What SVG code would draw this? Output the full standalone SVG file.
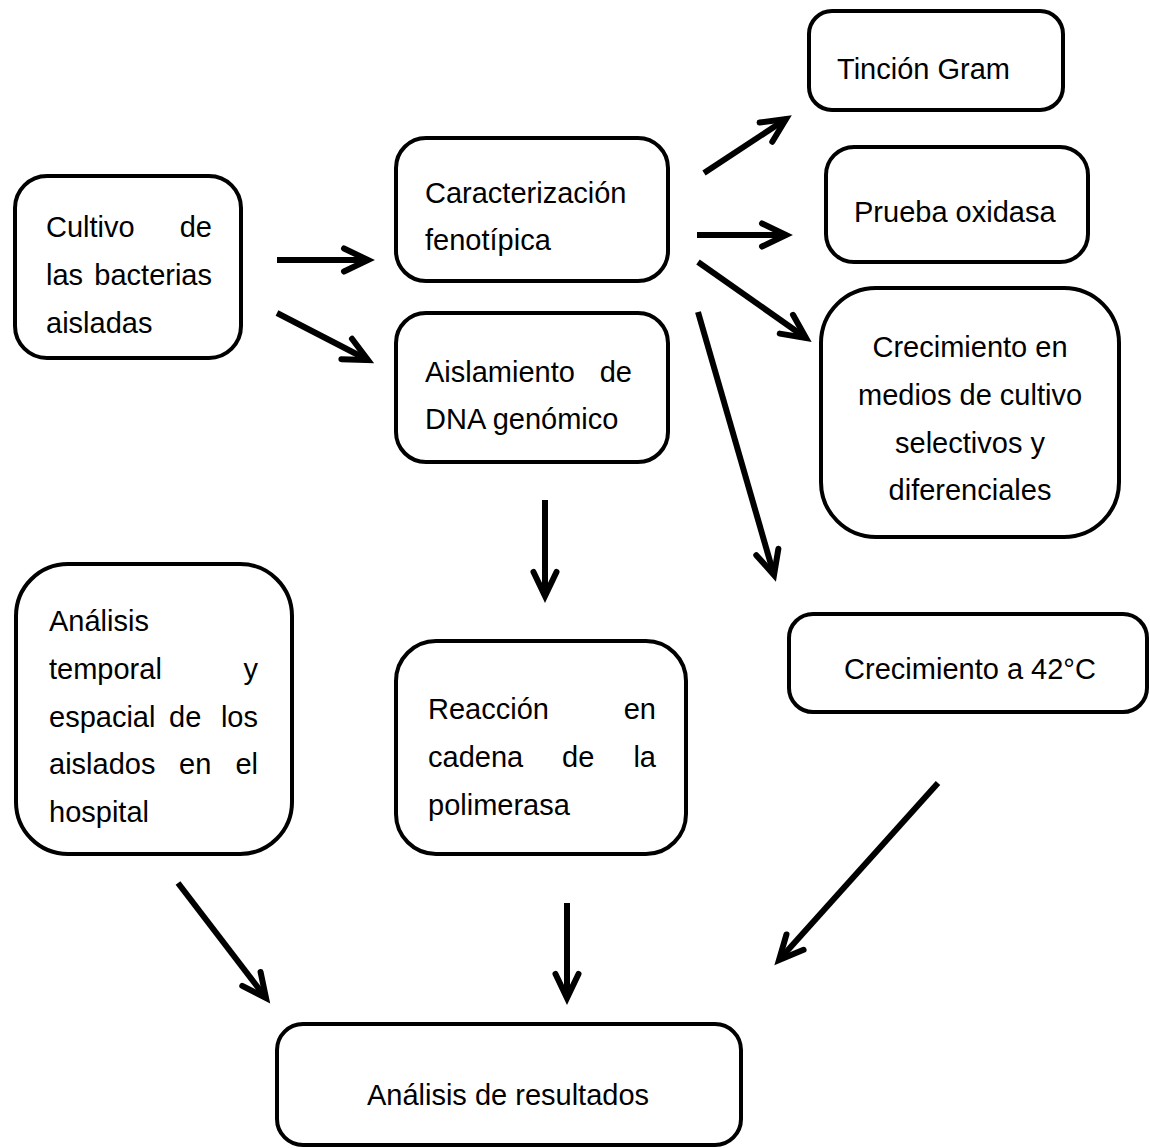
<svg xmlns="http://www.w3.org/2000/svg" width="1150" height="1148" viewBox="0 0 1150 1148">
<style>
.box{fill:#fff;stroke:#000;stroke-width:4}
.t{font-family:"Liberation Sans",Arial,sans-serif;font-size:29px;fill:#000}
.e{text-anchor:end}
.m{text-anchor:middle}
.c{fill:none;stroke:#000;stroke-width:6}
</style>
<defs>
<marker id="ah" markerUnits="userSpaceOnUse" orient="auto" refX="0" refY="0" markerWidth="40" markerHeight="40" style="overflow:visible">
<path d="M-24,-11.5 L0,0 L-24,11.5" fill="none" stroke="#000" stroke-width="6" stroke-linecap="round" stroke-linejoin="miter"/>
</marker>
</defs>
<rect width="1150" height="1148" fill="#fff"/>
<g id="connectors">
<line class="c" x1="277" y1="260" x2="368" y2="260" marker-end="url(#ah)"/>
<line class="c" x1="277" y1="313" x2="368" y2="360" marker-end="url(#ah)"/>
<line class="c" x1="704" y1="173" x2="786" y2="119" marker-end="url(#ah)"/>
<line class="c" x1="697" y1="235" x2="786" y2="235" marker-end="url(#ah)"/>
<line class="c" x1="698" y1="262" x2="806" y2="338" marker-end="url(#ah)"/>
<line class="c" x1="698" y1="312" x2="774" y2="575" marker-end="url(#ah)"/>
<line class="c" x1="545" y1="500" x2="545" y2="596" marker-end="url(#ah)"/>
<line class="c" x1="178" y1="883" x2="266" y2="998" marker-end="url(#ah)"/>
<line class="c" x1="567" y1="903" x2="567" y2="998" marker-end="url(#ah)"/>
<line class="c" x1="938" y1="783" x2="779" y2="960" marker-end="url(#ah)"/>
</g>
<g id="n-cultivo">
<rect class="box" x="15" y="176" width="226" height="182" rx="32"/>
<text class="t" x="46" y="237">Cultivo</text><text class="t e" x="212" y="237">de</text>
<text class="t" x="46" y="285">las</text><text class="t e" x="212" y="285">bacterias</text>
<text class="t" x="46" y="333">aisladas</text>
</g>
<g id="n-caracterizacion">
<rect class="box" x="396" y="138" width="272" height="143" rx="30"/>
<text class="t" x="425" y="203">Caracterización</text>
<text class="t" x="425" y="250">fenotípica</text>
</g>
<g id="n-aislamiento">
<rect class="box" x="396" y="313" width="272" height="149" rx="30"/>
<text class="t" x="425" y="382">Aislamiento</text><text class="t e" x="632" y="382">de</text>
<text class="t" x="425" y="429">DNA genómico</text>
</g>
<g id="n-tincion">
<rect class="box" x="809" y="11" width="254" height="99" rx="23"/>
<text class="t" x="837" y="79">Tinción Gram</text>
</g>
<g id="n-oxidasa">
<rect class="box" x="826" y="147" width="262" height="115" rx="28"/>
<text class="t" x="854" y="222">Prueba oxidasa</text>
</g>
<g id="n-medios">
<rect class="box" x="821" y="288" width="298" height="249" rx="55"/>
<text class="t m" x="970" y="357">Crecimiento en</text>
<text class="t m" x="970" y="405">medios de cultivo</text>
<text class="t m" x="970" y="453">selectivos y</text>
<text class="t m" x="970" y="500">diferenciales</text>
</g>
<g id="n-42">
<rect class="box" x="789" y="614" width="358" height="98" rx="24"/>
<text class="t m" x="970" y="679">Crecimiento a 42°C</text>
</g>
<g id="n-temporal">
<rect class="box" x="16" y="564" width="276" height="290" rx="52"/>
<text class="t" x="49" y="631">Análisis</text>
<text class="t" x="49" y="679">temporal</text><text class="t e" x="258" y="679">y</text>
<text class="t" x="49" y="727">espacial</text><text class="t" x="169" y="727">de</text><text class="t e" x="258" y="727">los</text>
<text class="t" x="49" y="774">aislados</text><text class="t" x="179" y="774">en</text><text class="t e" x="258" y="774">el</text>
<text class="t" x="49" y="822">hospital</text>
</g>
<g id="n-pcr">
<rect class="box" x="396" y="641" width="290" height="213" rx="40"/>
<text class="t" x="428" y="719">Reacción</text><text class="t e" x="656" y="719">en</text>
<text class="t" x="428" y="767">cadena</text><text class="t" x="562" y="767">de</text><text class="t e" x="656" y="767">la</text>
<text class="t" x="428" y="815">polimerasa</text>
</g>
<g id="n-resultados">
<rect class="box" x="277" y="1024" width="464" height="121" rx="26"/>
<text class="t m" x="508" y="1105">Análisis de resultados</text>
</g>
</svg>
